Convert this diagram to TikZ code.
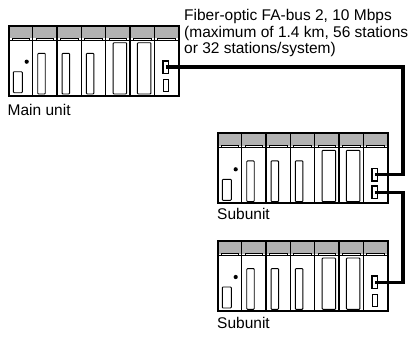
\documentclass[tikz,border=0pt]{standalone}
\usepackage{fontspec}
\setmainfont{Liberation Sans}
\usetikzlibrary{calc}
\definecolor{hdrgray}{RGB}{178,178,178}
\tikzset{
  x=1pt, y=-1pt,
  hdr/.style={fill=hdrgray},
  tabbar/.style={draw=black, fill=white, line width=0.8pt},
  divline/.style={draw=black, line width=1.3pt},
  modbox/.style={draw=black, fill=white, line width=0.9pt, rounded corners=0.8pt},
  rackborder/.style={draw=black, line width=2pt},
  conn/.style={draw=black, line width=0.9pt, minimum width=4.7pt, minimum height=12pt, inner sep=0pt},
  cable/.style={draw=black, line width=3.6pt, line join=miter},
  lbl/.style={font=\fontsize{15.5pt}{16.6pt}\selectfont, inner sep=0pt, anchor=base west},
}
\newcommand\plcrack[1]{%
  \begin{scope}[shift={#1}]
    \fill[white] (0,0) rectangle (170,70);
    \fill[hdr] (0,0) rectangle (170,12.5);
    \draw[line width=0.9pt] (0,14.5) -- (170,14.5);
    \foreach \i in {0,...,6}{
      \pgfmathsetmacro\l{\i*170/7}
      \draw[tabbar] (\l+3.5,12.2) rectangle (\l+21,14.5);
    }
    \foreach \i in {1,...,6}{
      \pgfmathsetmacro\l{\i*170/7}
      \draw[divline] (\l,0) -- (\l,70);
    }
    \fill (18.2,36) circle (2.1);
    \draw[modbox] (4.8,46) rectangle (13.8,67);
    \foreach \i in {1,2,3}{
      \pgfmathsetmacro\l{\i*170/7}
      \draw[modbox] (\l+5,27.6) rectangle (\l+12.5,68.3);
    }
    \foreach \i in {4,5}{
      \pgfmathsetmacro\l{\i*170/7}
      \draw[modbox] (\l+7.5,17) rectangle (\l+21,68.3);
    }
    \draw[rackborder] (0,0) rectangle (170,70);
  \end{scope}}
\begin{document}
\begin{tikzpicture}
\useasboundingbox (0,0) rectangle (415,338);
\plcrack{(8.5,25.7)}
\plcrack{(217.5,133.3)}
\plcrack{(217.5,241)}
% connectors
\node[conn] (mA) at (165.6,67) {};
\node[conn] (mB) at (165.6,85) {};
\node[conn] (sA) at (374.6,174.6) {};
\node[conn] (sB) at (374.6,192.3) {};
\node[conn] (tA) at (374.6,282.3) {};
\node[conn] (tB) at (374.6,300) {};
\coordinate (bus) at (403,0);
% cables
\draw[cable] (mA.center) -| (bus |- sA.center) -- (sA.center);
\draw[cable] (sB.center) -| (bus |- tA.center) -- (tA.center);
\foreach \n in {mA,sA,sB,tA}{\draw[line width=0.9pt] (\n.north west) rectangle (\n.south east);}
% labels
\node[lbl, align=left, anchor=north west] (bus label) at (184,9.0) {Fiber-optic FA-bus 2, 10 Mbps\\(maximum of 1.4 km, 56 stations\\or 32 stations/system)};
\node[lbl] (main label) at (7.5,115) {Main unit};
\node[lbl] (sub1 label) at (217,219) {Subunit};
\node[lbl] (sub2 label) at (217,328) {Subunit};
\end{tikzpicture}
\end{document}
